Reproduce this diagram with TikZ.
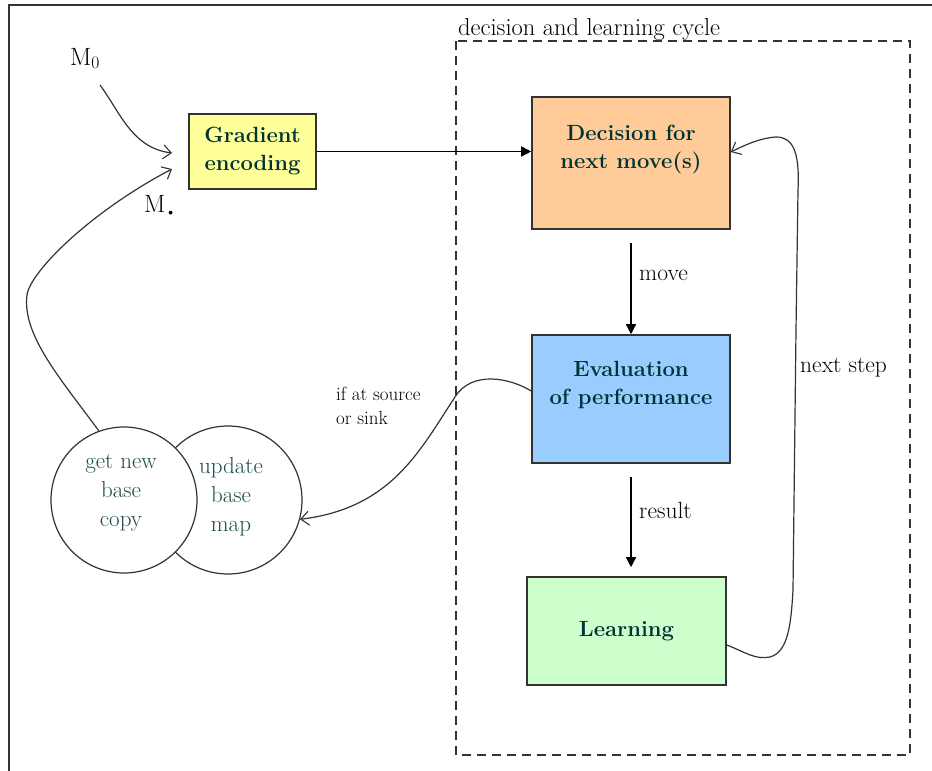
\documentclass[tikz,border=0pt]{standalone}
\usepackage{fontspec}
\usetikzlibrary{arrows.meta}
\definecolor{gradfill}{HTML}{FFFF99}
\definecolor{decfill}{HTML}{FFCC99}
\definecolor{evalfill}{HTML}{99CCFF}
\definecolor{learnfill}{HTML}{CCFFCC}
\definecolor{boxtext}{HTML}{003333}
\definecolor{circtext}{HTML}{1F4A4A}
\definecolor{linecol}{HTML}{333333}
\begin{document}
\begin{tikzpicture}[x=1pt,y=-1pt,
  box/.style={draw=linecol, line width=1.6pt, align=center, font=\fontsize{22}{28}\selectfont\bfseries, text=boxtext, inner sep=0pt},
  circ/.style={draw=linecol, circle, line width=1.2pt, minimum size=146pt, inner sep=0pt},
  ctext/.style={align=center, font=\fontsize{23}{29}\selectfont, text=circtext, inner sep=0pt},
  lbl/.style={font=\fontsize{23.5}{28}\selectfont, inner sep=0pt},
  ttl/.style={font=\fontsize{24.5}{28}\selectfont, inner sep=0pt},
  small/.style={font=\fontsize{19}{24}\selectfont, inner sep=0pt, align=left},
  mlbl/.style={font=\fontsize{25}{28}\selectfont, inner sep=0pt},
  flow/.style={draw=black, line width=1.5pt, -{Triangle[length=10pt,width=10pt]}},
  curve/.style={draw=linecol, line width=1.2pt, -{Straight Barb[length=8pt,width=14pt,line width=1.1pt]}},
  ]
\useasboundingbox (0,0) rectangle (932,771);
\fill[white] (0,0) rectangle (932,771);
% outer frame
\draw[line width=2pt, draw=linecol] (9,771) -- (9,5) -- (932,5);
% dashed cycle box
\draw[dash pattern=on 9pt off 6pt, line width=1.6pt, draw=linecol] (456,41) rectangle (910,755);
\node[ttl, anchor=base west] (title) at (458,35) {decision and learning cycle};

% boxes
\node[box, fill=gradfill, minimum width=127pt, minimum height=75pt] (grad) at (252.5,151.5) {Gradient\\encoding};
\node[box, fill=decfill, minimum width=198pt, minimum height=132pt] (dec) at (631,163) {Decision for\\next move(s)\\[4pt]};
\node[box, fill=evalfill, minimum width=198pt, minimum height=128pt] (eval) at (631,399) {Evaluation\\of performance\\[4pt]};
\node[box, fill=learnfill, minimum width=199pt, minimum height=108pt] (learn) at (626.5,631) {Learning};

% circles
\node[circ, minimum size=148pt] (upd) at (228,500) {};
\node[circ, fill=white] (copy) at (124,500) {};
\node[ctext] (copytxt) at (121,493) {get new\\base\\copy};
\node[ctext] (updtxt) at (231,497) {update\\base\\map};

% labels
\node[mlbl, anchor=base] (m0) at (85,65) {M\textsubscript{0}};
\node[mlbl, anchor=base] (mstar) at (160,212) {M\raisebox{-4pt}{\fontsize{14}{14}\selectfont\textbullet}};
\node[lbl, anchor=west] (movelbl) at (639,275) {move};
\node[lbl, anchor=west] (resultlbl) at (639,510) {result};
\node[lbl, anchor=west] (nextlbl) at (800,368) {next step};
\node[small, anchor=north west] (iflbl) at (336,387) {if at source\\or sink};

% coordinates for curve ends
\coordinate (m0start) at (100,85);
\coordinate (tipA) at (172,153);
\coordinate (tipB) at (172,169);
\coordinate (evstart) at ([yshift=8pt]eval.west);
\coordinate (lnstart) at ([yshift=-14pt]learn.east);
\coordinate (decin) at ([yshift=11pt]dec.east);

% straight flows
\draw[flow] (grad.east) -- (grad.east -| dec.west);
\draw[flow] ([yshift=-13pt]dec.south) -- (eval.north);
\draw[flow] ([yshift=-13pt]eval.south) -- ([yshift=9pt]learn.north -| eval.south);

% curves
\draw[curve] (m0start) .. controls (120,112) and (132,148) .. (tipA);
\draw[curve] (copy.110) .. controls (60,378) and (22,335) .. (27,295) .. controls (30,272) and (90,212) .. (tipB);
\draw[curve] (evstart) .. controls (510,378) and (472,370) .. (455,397) .. controls (420,450) and (392,508) .. (upd.-15);
\draw[curve] (lnstart) .. controls (745,652) and (755,660) .. (770,657) .. controls (788,652) and (791,625) .. (793,590) -- (796,330) -- (798,190) .. controls (800,150) and (792,137) .. (776,137) .. controls (760,138) and (745,145) .. (decin);
\end{tikzpicture}
\end{document}
